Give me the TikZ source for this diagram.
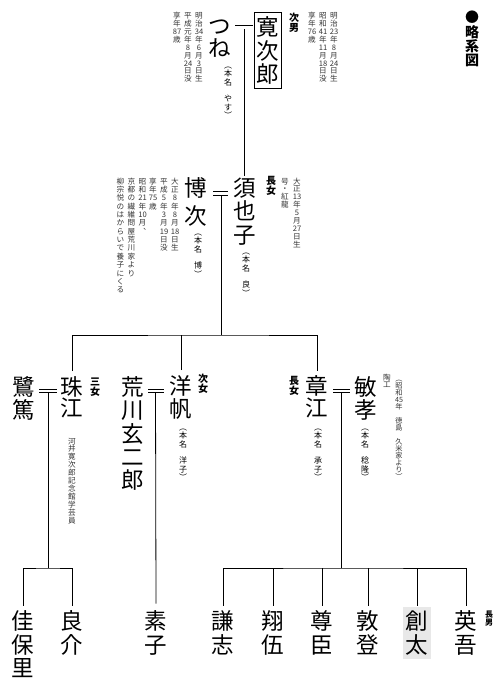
\documentclass[tikz,border=0pt]{standalone}
\usepackage{fontspec}
\setmainfont{Noto Sans CJK JP}
\makeatletter
% vertical setting: one item per line, optional pitch in em
\newcommand\tate[2][1.04]{%
  \vbox{\baselineskip=#1em\lineskiplimit=-\maxdimen\lineskip=0pt
    \@tfor\tate@c:=#2\do{%
      \hbox to 1em{\hss\vrule height .88em depth .12em width 0pt\tate@c\hss}}}}
\makeatother
\newcommand\tgap{}

\begin{document}
\begin{tikzpicture}[x=1pt,y=-1pt,line width=0.8pt,
  kin/.style={inner sep=0pt,anchor=north,font=\fontsize{22.5}{24}\selectfont},
  rank/.style={inner sep=0pt,anchor=north,font=\bfseries\fontsize{10}{11}\selectfont},
  note/.style={inner sep=0pt,anchor=north,text=black!80,font=\fontsize{7.6}{8}\selectfont},
  honmyo/.style={inner sep=0pt,anchor=north,font=\fontsize{8}{9}\selectfont},
  spouse/.style={double,double distance=2.6pt}]
  \useasboundingbox (0,0) rectangle (500,688);

  % title
  \node[rank,font=\bfseries\fontsize{14}{15}\selectfont] (title) at (472,10) {\tate[1.02]{●略系図}};

  % Kanjiro and Tsune
  \node[kin,draw,line width=0.6pt,inner xsep=2pt,inner ysep=3.5pt] (kanjiro) at (268,12) {\tate{寛次郎}};
  \node[rank] (kanjirorank) at (294,12) {\tate{次男}};
  \node[note] (kanjiro1) at (334,11.5) {\tate{明治{23}年8月{24}日生}};
  \node[note] (kanjiro2) at (323,11.5) {\tate{昭和{41}年{11}月{18}日没}};
  \node[note] (kanjiro3) at (312,11.5) {\tate{享年{76}歳}};
  \node[kin] (tsune) at (220,14.5) {\tate[0.96]{つね}};
  \node[honmyo] (tsunehon) at (228,61) {\tate{︵本名\tgap やす︶}};
  \node[note] (tsune1) at (199,11.5) {\tate{明治{34}年6月3日生}};
  \node[note] (tsune2) at (188,11.5) {\tate{平成元年8月{24}日没}};
  \node[note] (tsune3) at (177,11.5) {\tate{享年{87}歳}};
  \coordinate (m0) at (244.5,27.3);

  % Sueko and Hiroji
  \node[kin] (sueko) at (244.5,176) {\tate{須也子}};
  \node[rank] (suekorank) at (271,175) {\tate{長女}};
  \node[note] (sueko1) at (297,177) {\tate{大正{13}年5月{27}日生}};
  \node[note] (sueko2) at (285,177) {\tate{号・紅龍}};
  \node[honmyo] (suekohon) at (246,247) {\tate{︵本名\tgap 良︶}};
  \node[kin] (hiroji) at (196,176) {\tate[1.24]{博次}};
  \node[honmyo] (hirojihon) at (198,228) {\tate{︵本名\tgap 博︶}};
  \node[note] (hiroji1) at (175,177) {\tate[1.1]{大正8年8月{18}日生}};
  \node[note] (hiroji2) at (164,177) {\tate[1.1]{平成5年3月{19}日没}};
  \node[note] (hiroji3) at (153,177) {\tate[1.1]{享年{75}歳}};
  \node[note] (hiroji4) at (142.5,177) {\tate[1.1]{昭和{21}年{10}月︑}};
  \node[note] (hiroji5) at (131.5,177) {\tate[1.1]{京都の繊維問屋荒川家より}};
  \node[note] (hiroji6) at (120.5,177) {\tate[1.1]{柳宗悦のはからいで養子にくる}};
  \coordinate (m1) at (221.5,193.5);
  \coordinate (bar1) at (221.5,335);

  % third generation
  \node[kin] (sagi) at (24,375) {\tate{鷺篤}};
  \node[kin] (tamae) at (72,375) {\tate[0.96]{珠江}};
  \node[rank] (tamaerank) at (95,376) {\tate{三女}};
  \node[note] (tamae1) at (72,437) {\tate{河井寛次郎記念館学芸員}};
  \node[kin] (genjiro) at (133,375) {\tate{荒川玄二郎}};
  \node[kin] (hiroho) at (181,374) {\tate{洋帆}};
  \node[honmyo] (hirohohon) at (183,423) {\tate{︵本名\tgap 洋子︶}};
  \node[rank] (hirohorank) at (203,373) {\tate{次女}};
  \node[kin] (akie) at (317,374) {\tate[0.98]{章江}};
  \node[honmyo] (akiehon) at (318,423) {\tate{︵本名\tgap 承子︶}};
  \node[rank] (akierank) at (294,375) {\tate{長女}};
  \node[kin] (toshitaka) at (366,375) {\tate{敏孝}};
  \node[honmyo] (toshitakahon) at (365,423) {\tate{︵本名\tgap 稔隆︶}};
  \node[note] (toshitaka1) at (387,373) {\tate[0.95]{陶工}};
  \node[note,font=\fontsize{7.2}{8}\selectfont] (toshitaka2) at (399,375) {\tate[0.97]{︵昭和{45}年\tgap 徳島\tgap 久米家より︶}};
  \coordinate (m2) at (48,391);
  \coordinate (m3) at (155.5,391);
  \coordinate (m4) at (341.5,391);
  \coordinate (bar2) at (48,568);
  \coordinate (bar3) at (341.5,568);

  % grandchildren
  \node[kin] (kahori) at (23,609.5) {\tate{佳保里}};
  \node[kin] (ryosuke) at (72,609.5) {\tate{良介}};
  \node[kin] (motoko) at (156,609.5) {\tate{素子}};
  \node[kin] (kenji) at (223,609.5) {\tate{謙志}};
  \node[kin] (shogo) at (273,609.5) {\tate{翔伍}};
  \node[kin] (takaomi) at (322,609.5) {\tate{尊臣}};
  \node[kin] (atsuto) at (368,609.5) {\tate{敦登}};
  \node[kin,fill=gray!18,inner sep=3pt] (sota) at (417,606.5) {\tate{創太}};
  \node[kin] (eigo) at (466,609.5) {\tate{英吾}};
  \node[rank,font=\bfseries\fontsize{8}{9}\selectfont] (eigorank) at (489,610) {\tate{長男}};

  % descent lines
  \draw (m0) -- (sueko.north);
  \draw (m1) -- (bar1);
  \draw ([yshift=4pt]tamae.north) |- (bar1) -| ([yshift=3pt]akie.north);
  \draw ([yshift=4pt]hiroho.north) -- (hiroho.north |- bar1);
  \draw (m2) -- (bar2);
  \draw ([yshift=4pt]kahori.north) |- (bar2) -| ([yshift=4pt]ryosuke.north);
  \draw (m3) -- ([yshift=6pt]motoko.north);
  \draw (m4) -- (bar3);
  \draw ([yshift=4pt]kenji.north) |- (bar3) -| ([yshift=4pt]eigo.north);
  \foreach \c in {shogo,takaomi,atsuto}
    \draw ([yshift=4pt]\c.north) -- (\c.north |- bar3);
  \draw ([yshift=1pt]sota.north) -- (sota.north |- bar3);

  % marriages
  \draw[spouse] ([xshift=3.5pt]tsune.east |- m0) -- ([xshift=-1.5pt]kanjiro.west |- m0);
  \draw[spouse] ([xshift=5.75pt]hiroji.east |- m1) -- ([xshift=-5.25pt]sueko.west |- m1);
  \draw[spouse] ([xshift=3.75pt]sagi.east |- m2) -- ([xshift=-3.75pt]tamae.west |- m2);
  \draw[spouse] ([xshift=3.75pt]genjiro.east |- m3) -- ([xshift=-5.75pt]hiroho.west |- m3);
  \draw[spouse] ([xshift=4.75pt]akie.east |- m4) -- ([xshift=-4.75pt]toshitaka.west |- m4);
\end{tikzpicture}
\end{document}
